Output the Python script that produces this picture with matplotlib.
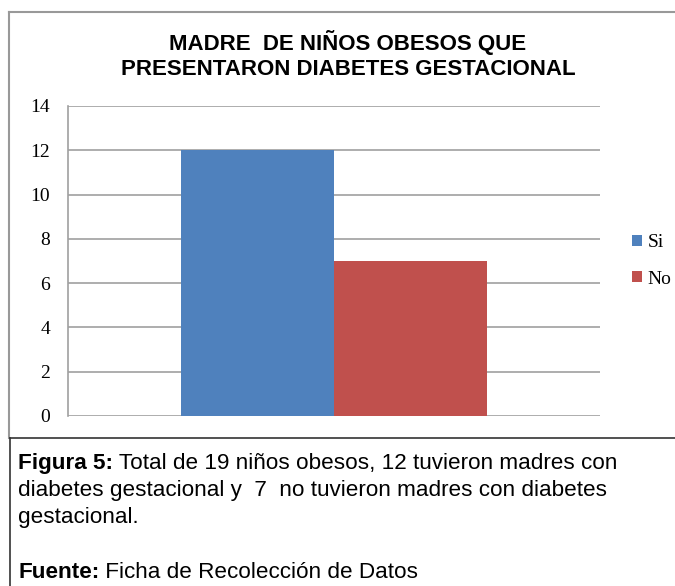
import matplotlib.pyplot as plt
from matplotlib.lines import Line2D

# --- Datos ---
series = ["Si", "No"]
valores = [12, 7]
colores = ["#4F81BD", "#C0504D"]
yticks = [0, 2, 4, 6, 8, 10, 12, 14]

titulo = "MADRE  DE NIÑOS OBESOS QUE\nPRESENTARON DIABETES GESTACIONAL"
caption = [
    ("Figura 5:", " Total de 19 niños obesos, 12 tuvieron madres con"),
    ("", "diabetes gestacional y  7  no tuvieron madres con diabetes"),
    ("", "gestacional."),
    ("", ""),
    ("Fuente:", " Ficha de Recolección de Datos"),
]

W, H = 675, 586
fig = plt.figure(figsize=(W / 100, H / 100), dpi=100)

def fx(px):
    return px / W

def fy(py):
    return 1 - py / H

# marco del gráfico
fig.add_artist(Line2D([fx(8.5), fx(8.5)], [fy(12), fy(438)], color="#999999", lw=1.5))
fig.add_artist(Line2D([fx(8.5), fx(674)], [fy(12), fy(12)], color="#999999", lw=1.5))
# marco del texto de la figura
fig.add_artist(Line2D([fx(10), fx(675)], [fy(438), fy(438)], color="#333333", lw=1.2))
fig.add_artist(Line2D([fx(10), fx(10)], [fy(438), fy(586)], color="#333333", lw=1.2))

ax = fig.add_axes([fx(68), fy(416), fx(600) - fx(68), (416 - 106) / H])
ancho = 0.2876
for i, (s, v, c) in enumerate(zip(series, valores, colores)):
    ax.bar((i - 0.5) * ancho, v, width=ancho, color=c, label=s, zorder=2)

ax.set_xlim(-0.5, 0.5)
ax.set_ylim(0, 14)
ax.set_yticks(yticks)
ax.set_xticks([])
ax.grid(axis="y", color="#A0A0A0", lw=1.2, zorder=0)
for lado in ["top", "right", "bottom"]:
    ax.spines[lado].set_visible(False)
ax.spines["left"].set_color("#A0A0A0")
ax.spines["left"].set_linewidth(1.2)
ax.tick_params(axis="y", length=0, pad=13, labelsize=14)
for t in ax.get_yticklabels():
    t.set_fontfamily("Liberation Serif")

fig.text(fx(348), fy(55), titulo, ha="center", va="center", fontsize=16,
         fontweight="bold", family="Liberation Sans", linespacing=1.3)

leg = ax.legend(loc="center left", bbox_to_anchor=(fx(632), fy(261)),
                bbox_transform=fig.transFigure, frameon=False,
                prop={"family": "Liberation Serif", "size": 14},
                handlelength=0.5, handleheight=0.5, handletextpad=0.3,
                labelspacing=1.0, borderaxespad=0, borderpad=0)

# texto de la figura
fig.canvas.draw()
renderer = fig.canvas.get_renderer()
y0 = 469
for k, (negrita, resto) in enumerate(caption):
    yy = fy(y0 + k * 27.2)
    x = fx(18)
    if negrita:
        t = fig.text(x, yy, negrita, fontsize=16.2, fontweight="bold",
                     family="Liberation Sans", va="baseline")
        bb = t.get_window_extent(renderer)
        x = bb.x1 / W
    if resto:
        fig.text(x, yy, resto, fontsize=16.2, family="Liberation Sans", va="baseline")

fig.savefig("out.png", dpi=100)
